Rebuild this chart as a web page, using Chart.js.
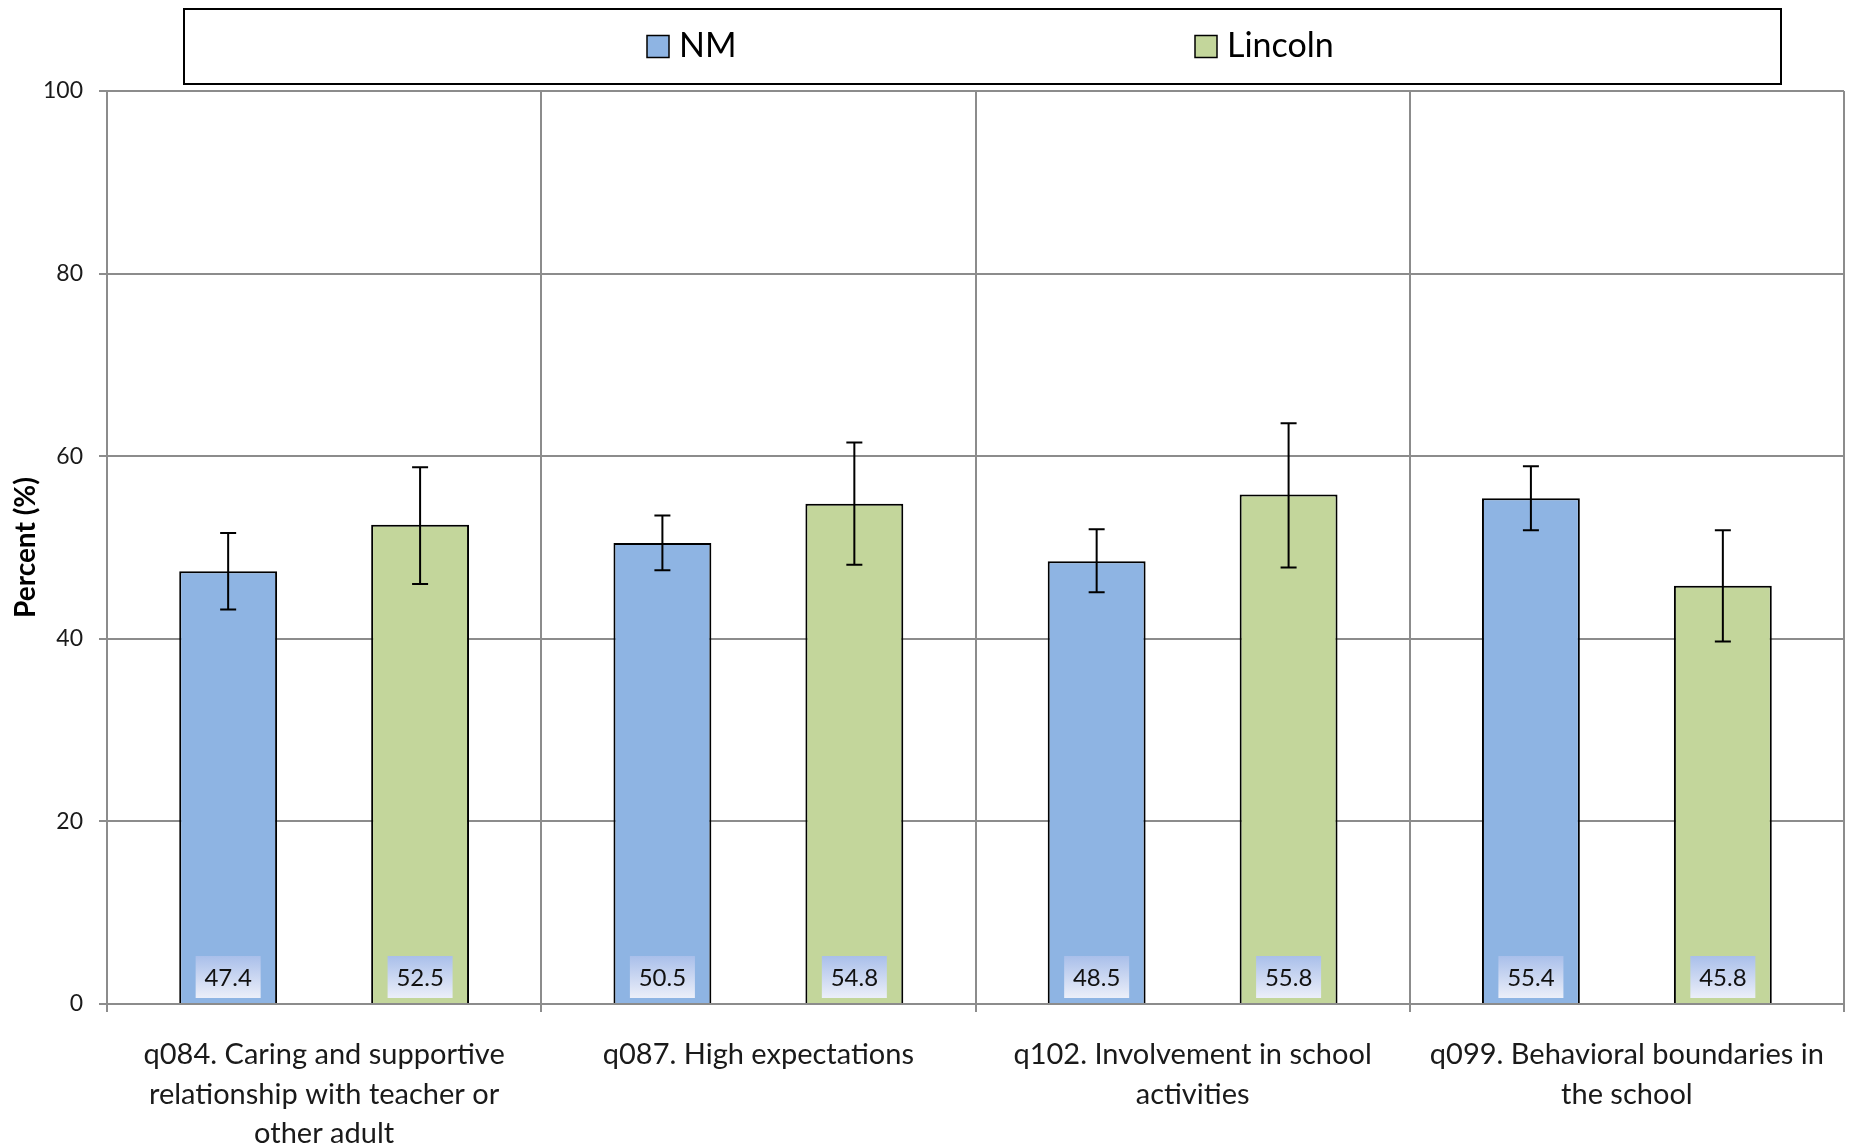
<!DOCTYPE html>
<html>
<head>
<meta charset="utf-8">
<title>Developmental assets: NM vs Lincoln</title>
<script src="https://cdn.jsdelivr.net/npm/chart.js@4.4.1/dist/chart.umd.min.js"></script>
<style>
  html, body { margin: 0; padding: 0; background: #fff; }
  #wrap { width: 1851px; height: 1147px; position: relative; }
</style>
</head>
<body>
<div id="wrap"><canvas id="chart"></canvas></div>
<script>
// ── Data ──────────────────────────────────────────────────────────────────
const categories = [
    ['q084. Caring and supportive', 'relationship with teacher or', 'other adult'],
    'q087. High expectations',
    ['q102. Involvement in school', 'activities'],
    ['q099. Behavioral boundaries in', 'the school']
];
const seriesNames   = ['NM', 'Lincoln'];
const nmValues      = [47.4, 50.5, 48.5, 55.4];
const lincolnValues = [52.5, 54.8, 55.8, 45.8];
// 95% confidence interval ends
const nmLow         = [43.2, 47.5, 45.1, 51.9];
const nmHigh        = [51.6, 53.5, 52.0, 58.9];
const lincolnLow    = [46.0, 48.1, 47.8, 39.7];
const lincolnHigh   = [58.8, 61.5, 63.6, 51.9];
const yTicks        = [0, 20, 40, 60, 80, 100];

const FONT     = 'Lato, "Open Sans", sans-serif';
const GRID_CLR = '#8c8c8c';
const COLORS   = ['#8eb4e3', '#c3d69b'];

// ── Plugins ───────────────────────────────────────────────────────────────

// value boxes sitting at the foot of each bar
const valueBoxPlugin = {
    id: 'valueBoxes',
    afterDatasetsDraw(chart) {
        const { ctx, scales: { y } } = chart;
        const base = y.getPixelForValue(0);
        const w = 65, h = 42;
        ctx.save();
        ctx.font = '24px ' + FONT;
        ctx.textAlign = 'center';
        ctx.textBaseline = 'middle';
        chart.data.datasets.forEach((ds, di) => {
            chart.getDatasetMeta(di).data.forEach((bar, i) => {
                const top = base - 6 - h;
                const g = ctx.createLinearGradient(0, top, 0, top + h);
                g.addColorStop(0, '#a9bfea');
                g.addColorStop(1, '#eceff9');
                ctx.fillStyle = g;
                ctx.fillRect(bar.x - w / 2, top, w, h);
                ctx.fillStyle = '#111';
                ctx.fillText(ds.data[i].toFixed(1), bar.x, top + h / 2 + 1);
            });
        });
        ctx.restore();
    }
};

// confidence interval whiskers
const errorBarPlugin = {
    id: 'errorBars',
    afterDatasetsDraw(chart) {
        const { ctx, scales: { y } } = chart;
        const cap = 8;
        ctx.save();
        ctx.strokeStyle = '#000';
        ctx.lineWidth = 2;
        chart.data.datasets.forEach((ds, di) => {
            chart.getDatasetMeta(di).data.forEach((bar, i) => {
                const yl = y.getPixelForValue(ds.errLow[i]);
                const yh = y.getPixelForValue(ds.errHigh[i]);
                ctx.beginPath();
                ctx.moveTo(bar.x, yl);        ctx.lineTo(bar.x, yh);
                ctx.moveTo(bar.x - cap, yh);  ctx.lineTo(bar.x + cap, yh);
                ctx.moveTo(bar.x - cap, yl);  ctx.lineTo(bar.x + cap, yl);
                ctx.stroke();
            });
        });
        ctx.restore();
    }
};

// boxed legend across the top
const boxLegendPlugin = {
    id: 'boxLegend',
    afterDraw(chart) {
        const { ctx } = chart;
        const left = 184, top = 9, right = 1781, bottom = 84;
        const cy = (top + bottom) / 2;
        const pitch = 548, sq = 22;
        ctx.save();
        ctx.fillStyle = '#fff';
        ctx.strokeStyle = '#000';
        ctx.lineWidth = 2;
        ctx.fillRect(left, top, right - left, bottom - top);
        ctx.strokeRect(left, top, right - left, bottom - top);
        ctx.font = '34px ' + FONT;
        ctx.textBaseline = 'middle';
        ctx.textAlign = 'left';
        chart.data.datasets.forEach((ds, i) => {
            const x = 647 + i * pitch;
            ctx.fillStyle = ds.backgroundColor;
            ctx.fillRect(x, cy - sq / 2, sq, sq);
            ctx.lineWidth = 1.5;
            ctx.strokeRect(x, cy - sq / 2, sq, sq);
            ctx.fillStyle = '#000';
            ctx.fillText(ds.label, x + sq + 10, cy);
        });
        ctx.restore();
    }
};

// ── Chart ─────────────────────────────────────────────────────────────────
new Chart(document.getElementById('chart'), {
    type: 'bar',
    data: {
        labels: categories,
        datasets: [
            {
                label: seriesNames[0],
                data: nmValues,
                errLow: nmLow,
                errHigh: nmHigh,
                backgroundColor: COLORS[0],
                borderColor: '#000',
                borderWidth: 2
            },
            {
                label: seriesNames[1],
                data: lincolnValues,
                errLow: lincolnLow,
                errHigh: lincolnHigh,
                backgroundColor: COLORS[1],
                borderColor: '#000',
                borderWidth: 2
            }
        ]
    },
    options: {
        responsive: true,
        maintainAspectRatio: false,
        animation: false,
        categoryPercentage: 0.884,
        barPercentage: 0.51,
        layout: { padding: { top: 91, left: 0, right: 7, bottom: 0 } },
        plugins: {
            legend:  { display: false },
            tooltip: { enabled: false }
        },
        scales: {
            x: {
                afterFit: (axis) => { axis.height = 143; },
                grid:   { color: GRID_CLR, lineWidth: 2, offset: true, tickLength: 8 },
                border: { color: GRID_CLR, width: 2 },
                ticks: {
                    color: '#1a1a1a',
                    font: { family: FONT, size: 29, lineHeight: 1.36 },
                    padding: 23,
                    maxRotation: 0,
                    autoSkip: false
                }
            },
            y: {
                min: 0,
                max: 100,
                afterFit: (axis) => { axis.width = 107; },
                afterBuildTicks: (axis) => { axis.ticks = yTicks.map(v => ({ value: v })); },
                grid:   { color: GRID_CLR, lineWidth: 2, tickLength: 8 },
                border: { color: GRID_CLR, width: 2 },
                ticks: {
                    color: '#1a1a1a',
                    font: { family: FONT, size: 23 },
                    padding: 16
                },
                title: {
                    display: true,
                    text: 'Percent (%)',
                    color: '#000',
                    font: { family: FONT, size: 28, weight: 'bold' },
                    padding: { top: 9, bottom: 0 }
                }
            }
        }
    },
    plugins: [valueBoxPlugin, errorBarPlugin, boxLegendPlugin]
});
</script>
</body>
</html>
